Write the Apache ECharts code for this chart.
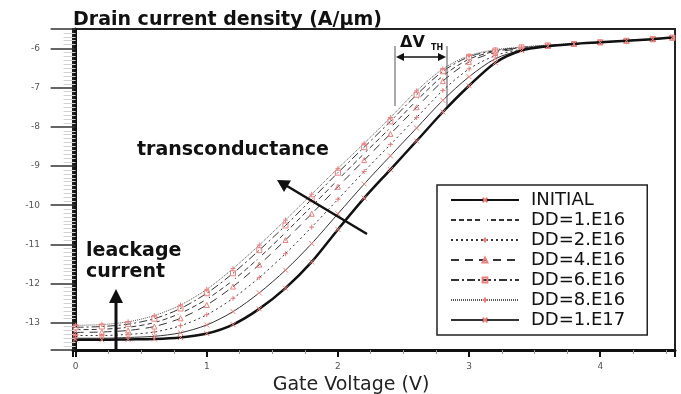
<!DOCTYPE html>
<html>
<head>
<meta charset="utf-8">
<script src="https://cdn.jsdelivr.net/npm/echarts@6/dist/echarts.min.js"></script>
<style>
  html, body { margin: 0; padding: 0; background: #fff; }
  #chart { width: 681px; height: 394px; }
</style>
</head>
<body>
<div id="chart"></div>
<script>
// gate voltage grid (V)
var voltage = [0, 0.2, 0.4, 0.6, 0.8, 1.0, 1.2, 1.4, 1.6, 1.8, 2.0, 2.2, 2.4, 2.6, 2.8, 3.0, 3.2, 3.4, 3.6, 3.8, 4.0, 4.2, 4.4, 4.55];

// log10 of drain current density (A/um)
var initial = [-13.44, -13.44, -13.43, -13.42, -13.38, -13.28, -13.05, -12.65, -12.12, -11.45, -10.62, -9.82, -9.09, -8.36, -7.62, -6.95, -6.36, -6.05, -5.94, -5.88, -5.84, -5.80, -5.76, -5.72];
var dd1e17 = [-13.40, -13.40, -13.38, -13.35, -13.26, -13.06, -12.72, -12.24, -11.66, -10.98, -10.22, -9.46, -8.74, -8.03, -7.32, -6.72, -6.26, -6.04, -5.94, -5.88, -5.84, -5.80, -5.76, -5.72];
var dd2e16 = [-13.33, -13.33, -13.30, -13.24, -13.08, -12.80, -12.38, -11.85, -11.24, -10.56, -9.85, -9.14, -8.45, -7.76, -7.07, -6.52, -6.18, -6.02, -5.94, -5.88, -5.84, -5.80, -5.76, -5.72];
var dd4e16 = [-13.25, -13.24, -13.20, -13.10, -12.89, -12.55, -12.08, -11.52, -10.89, -10.22, -9.53, -8.85, -8.18, -7.50, -6.83, -6.34, -6.10, -6.00, -5.93, -5.88, -5.84, -5.80, -5.76, -5.72];
var dd1e16 = [-13.18, -13.17, -13.12, -13.00, -12.76, -12.40, -11.92, -11.34, -10.70, -10.03, -9.35, -8.68, -8.02, -7.33, -6.70, -6.27, -6.07, -5.98, -5.93, -5.88, -5.84, -5.80, -5.76, -5.72];
var dd6e16 = [-13.12, -13.10, -13.04, -12.90, -12.64, -12.25, -11.74, -11.15, -10.52, -9.85, -9.17, -8.52, -7.86, -7.18, -6.58, -6.21, -6.05, -5.97, -5.92, -5.88, -5.84, -5.80, -5.76, -5.72];
var dd8e16 = [-13.07, -13.05, -12.98, -12.82, -12.55, -12.15, -11.62, -11.02, -10.38, -9.72, -9.06, -8.42, -7.76, -7.08, -6.52, -6.18, -6.03, -5.96, -5.91, -5.87, -5.83, -5.79, -5.75, -5.72];

var legendNames = ['INITIAL', 'DD=1.E16', 'DD=2.E16', 'DD=4.E16', 'DD=6.E16', 'DD=8.E16', 'DD=1.E17'];

var markRed = '#e98080';
var xPath = 'path://M0,0L10,10M10,0L0,10';
var plusPath = 'path://M5,0L5,10M0,5L10,5';

function pairs(vals) {
    return voltage.map(function (v, i) { return [v, vals[i]]; });
}

function makeSeries(name, vals, symbol, lineType, width, color) {
    return {
        name: name,
        type: 'line',
        data: pairs(vals),
        smooth: 0.3,
        symbol: symbol,
        symbolSize: 5,
        showSymbol: true,
        itemStyle: { color: 'rgba(255,255,255,0)', borderColor: markRed, borderWidth: 1 },
        lineStyle: { color: color, width: width, type: lineType },
        emphasis: { disabled: true },
        z: width > 2 ? 5 : 3
    };
}

var chart = echarts.init(document.getElementById('chart'));

var option = {
    animation: false,
    backgroundColor: '#fff',
    grid: {
        left: 73, top: 29, right: 6, bottom: 44,
        outerBoundsMode: 'none',
        containLabel: false,
        show: true, borderColor: '#222', borderWidth: 2
    },
    title: {
        text: 'Drain current density (A/\u03bcm)',
        left: 73, top: 11,
        padding: 0,
        textStyle: { fontFamily: 'DejaVu Sans', fontWeight: 'bold', fontSize: 19, color: '#111' }
    },
    legend: {
        orient: 'vertical',
        left: 437, top: 185,
        padding: [6, 22, 6, 13],
        itemWidth: 68, itemHeight: 6, itemGap: 2,
        borderColor: '#222', borderWidth: 1.5,
        backgroundColor: '#fff',
        data: legendNames,
        textStyle: { fontFamily: 'DejaVu Sans', fontSize: 18, color: '#111', padding: [0, 0, 0, 7] }
    },
    xAxis: {
        type: 'value',
        min: -0.02, max: 4.57,
        splitNumber: 5,
        name: 'Gate Voltage (V)',
        nameLocation: 'middle',
        nameGap: 26,
        nameTextStyle: { fontFamily: 'DejaVu Sans', fontSize: 19, color: '#222', padding: [0, 46, 0, 0] },
        axisLine: { lineStyle: { color: '#111', width: 3 } },
        axisTick: { length: 7, lineStyle: { color: '#111', width: 2 } },
        minorTick: { show: true, splitNumber: 4, length: 4, lineStyle: { color: '#999', width: 1 } },
        axisLabel: { showMinLabel: false, showMaxLabel: false, margin: 12, fontSize: 9, color: '#555', fontFamily: 'DejaVu Sans' },
        splitLine: { show: false }
    },
    yAxis: {
        type: 'value',
        min: -13.7, max: -5.5,
        splitNumber: 8,
        axisLine: { show: true, lineStyle: { color: '#111', width: 3 } },
        axisTick: { show: true, length: 25, lineStyle: { color: '#333', width: 1.5 } },
        minorTick: { show: true, splitNumber: 10, length: 12, lineStyle: { color: '#d2d2d2', width: 1 } },
        axisLabel: { showMinLabel: false, showMaxLabel: false, margin: 33, fontSize: 9, color: '#555', fontFamily: 'DejaVu Sans' },
        splitLine: { show: false }
    },
    series: [
        makeSeries('INITIAL', initial, xPath, 'solid', 2.5, '#111'),
        makeSeries('DD=1.E16', dd1e16, 'emptyCircle', [5, 3], 1, '#333'),
        makeSeries('DD=2.E16', dd2e16, plusPath, [2, 3], 1, '#333'),
        makeSeries('DD=4.E16', dd4e16, 'triangle', [8, 6], 1, '#333'),
        makeSeries('DD=6.E16', dd6e16, 'rect', [8, 3, 2, 3], 1, '#333'),
        makeSeries('DD=8.E16', dd8e16, plusPath, [1, 1], 1, '#555'),
        makeSeries('DD=1.E17', dd1e17, xPath, 'solid', 1, '#333')
    ],
    graphic: [
        // transconductance label and arrow
        { type: 'text', left: 137, top: 141, style: { text: 'transconductance', font: 'bold 19px "DejaVu Sans"', fill: '#111' } },
        { type: 'line', shape: { x1: 367, y1: 234, x2: 287, y2: 186 }, style: { stroke: '#111', lineWidth: 2.5 }, z: 10 },
        { type: 'polygon', shape: { points: [[277, 180], [291, 180.5], [284, 192]] }, style: { fill: '#111' }, z: 10 },
        // leakage label and arrow
        { type: 'text', left: 86, top: 241, style: { text: 'leackage\ncurrent', font: 'bold 19px "DejaVu Sans"', fill: '#111', lineHeight: 21 } },
        { type: 'line', shape: { x1: 116, y1: 349, x2: 116, y2: 300 }, style: { stroke: '#111', lineWidth: 3 }, z: 10 },
        { type: 'polygon', shape: { points: [[116, 289], [109, 303], [123, 303]] }, style: { fill: '#111' }, z: 10 },
        // delta V_TH marker
        { type: 'line', shape: { x1: 395, y1: 46, x2: 395, y2: 106 }, style: { stroke: '#555', lineWidth: 1 }, z: 10 },
        { type: 'line', shape: { x1: 447, y1: 46, x2: 447, y2: 106 }, style: { stroke: '#555', lineWidth: 1 }, z: 10 },
        { type: 'line', shape: { x1: 399, y1: 57, x2: 443, y2: 57 }, style: { stroke: '#111', lineWidth: 1.5 }, z: 10 },
        { type: 'polygon', shape: { points: [[396, 57], [404, 53], [404, 61]] }, style: { fill: '#111' }, z: 10 },
        { type: 'polygon', shape: { points: [[446, 57], [438, 53], [438, 61]] }, style: { fill: '#111' }, z: 10 },
        { type: 'text', left: 400, top: 35, style: { text: '\u0394V', font: 'bold 16px "DejaVu Sans"', fill: '#111' } },
        { type: 'text', left: 431, top: 44, style: { text: 'TH', font: 'bold 8px "DejaVu Sans"', fill: '#111' } }
    ]
};

chart.setOption(option);
</script>
</body>
</html>
